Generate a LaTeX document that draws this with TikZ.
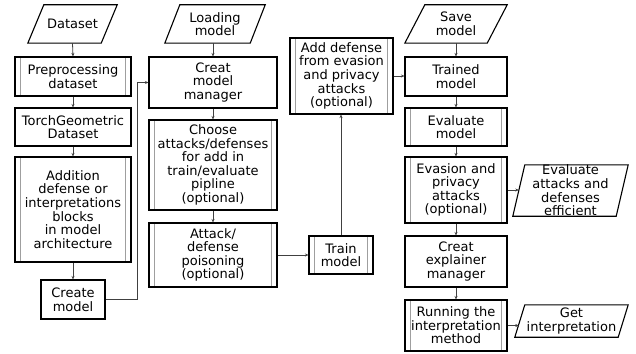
\documentclass[tikz,border=0pt]{standalone}
\usepackage{fontspec}
\setmainfont{DejaVu Sans}
\usetikzlibrary{arrows.meta,calc}
\begin{document}
\begin{tikzpicture}[x=1pt,y=-1pt,
  every node/.style={font=\fontsize{13}{13.6}\selectfont, align=center, inner sep=0pt},
  box/.style={draw=black, line width=1.1pt, rectangle},
  subproc/.style={box, path picture={
      \draw[gray!75, line width=0.9pt]
        ([xshift=5.5pt]path picture bounding box.north west) -- ([xshift=5.5pt]path picture bounding box.south west)
        ([xshift=-5.5pt]path picture bounding box.north east) -- ([xshift=-5.5pt]path picture bounding box.south east);}},
  paratext/.style={rectangle},
  paraline/.style={draw=black, line width=1.1pt, line join=miter},
  arr/.style={draw=black!75, line width=0.8pt, -{Stealth[length=3.5pt,width=3pt]}},
  sz/.style 2 args={minimum width=#1pt, minimum height=#2pt}
]
\useasboundingbox (0,0) rectangle (636,353);

% column 1
\node[paratext, sz={89}{38}] (ds) at (72.5,24) {Dataset};
\draw[paraline] (ds.south west) -- ([xshift=-16pt]ds.south east) -- (ds.north east) -- ([xshift=16pt]ds.north west) -- cycle;
\node[subproc, sz={116}{39}] (pre) at (73,76.5) {Preprocessing\\dataset};
\node[box, sz={116}{38}] (tg) at (73,127) {TorchGeometric\\Dataset};
\node[subproc, sz={116}{105}] (add) at (73,209.5) {Addition\\defense or\\interpretations\\blocks\\in model\\architecture};
\node[box, sz={64}{39}] (cm) at (73,299.5) {Create\\model};

% column 2
\node[paratext, sz={100}{38}] (lm) at (215,24) {Loading\\model};
\draw[paraline] (lm.south west) -- ([xshift=-15pt]lm.south east) -- (lm.north east) -- ([xshift=15pt]lm.north west) -- cycle;
\node[box, sz={128}{51}] (cmm) at (213,82.5) {Creat\\model\\manager};
\node[subproc, sz={128}{90}] (ch) at (213,165) {Choose\\attacks/defenses\\for add in\\train/evaluate\\pipline\\(optional)};
\node[subproc, sz={128}{64}] (ap) at (213,255) {Attack/\\defense\\poisoning\\(optional)};

% column 3
\node[subproc, sz={64}{38}] (tr) at (341,255) {Train\\model};
\node[subproc, sz={103}{76}] (ad) at (341.5,76) {Add defense\\from evasion\\and privacy\\attacks\\(optional)};

% column 4
\node[paratext, sz={102}{38}] (sm) at (456,24) {Save\\model};
\draw[paraline] (sm.south west) -- ([xshift=-20pt]sm.south east) -- (sm.north east) -- ([xshift=20pt]sm.north west) -- cycle;
\node[box, sz={102}{39}] (tm) at (456,76.5) {Trained\\model};
\node[subproc, sz={102}{38}] (ev) at (456,127) {Evaluate\\model};
\node[subproc, sz={102}{66}] (ep) at (456,190) {Evasion and\\privacy\\attacks\\(optional)};
\node[box, sz={102}{51}] (ce) at (456,261.5) {Creat\\explainer\\manager};
\node[subproc, sz={102}{51}] (ri) at (456,325.5) {Running the\\interpretation\\method};

% column 5
\node[paratext, sz={115}{51}] (ea) at (570.5,190.5) {Evaluate\\attacks and\\defenses\\efficient};
\draw[paraline] (ea.south west) -- ([xshift=-12pt]ea.south east) -- (ea.north east) -- ([xshift=12pt]ea.north west) -- cycle;
\coordinate (eaL) at ([xshift=6pt]ea.west);
\node[paratext, sz={113}{32}] (gi) at (571.5,321) {Get\\interpretation};
\draw[paraline] (gi.south west) -- ([xshift=-10pt]gi.south east) -- (gi.north east) -- ([xshift=10pt]gi.north west) -- cycle;
\coordinate (giL) at ([xshift=4pt]gi.west);

% connectors
\draw[arr] (ds.south) -- (pre.north);
\draw[arr] (pre.south) -- (tg.north);
\draw[arr] (tg.south) -- (add.north);
\draw[arr] (add.south) -- (cm.north);
\draw[arr] (cm.east) -- ++(32,0) |- (cmm.west);
\draw[arr] (lm.south -| cmm.north) -- (cmm.north);
\draw[arr] (cmm.south) -- (ch.north);
\draw[arr] (ch.south) -- (ap.north);
\draw[arr] (ap.east) -- (ap.east -| tr.west);
\draw[arr] (tr.north) -- (tr.north |- ad.south);
\draw[arr] (ad.east) -- (ad.east -| tm.west);
\draw[arr] (sm.south) -- (tm.north);
\draw[arr] (tm.south) -- (ev.north);
\draw[arr] (ev.south) -- (ep.north);
\draw[arr] (ep.east) -- (ep.east -| eaL);
\draw[arr] (ep.south) -- (ce.north);
\draw[arr] (ce.south) -- (ri.north);
\draw[arr] (ri.east) -- (ri.east -| giL);
\end{tikzpicture}
\end{document}
